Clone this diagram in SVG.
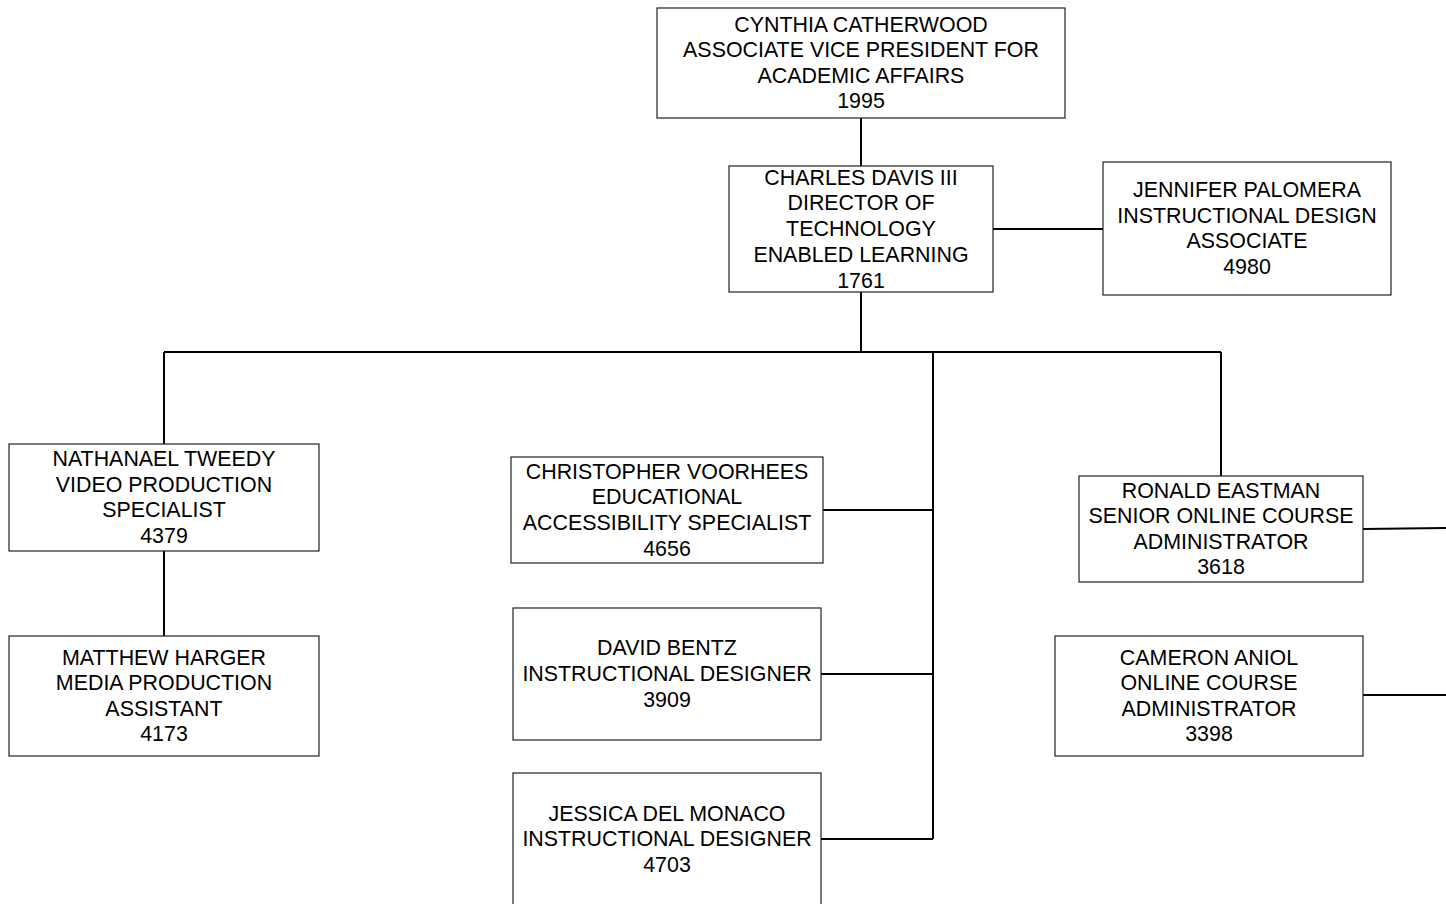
<svg xmlns="http://www.w3.org/2000/svg" width="1446" height="904" viewBox="0 0 1446 904">
<style>
.box{fill:#fff;stroke:#222;stroke-width:1.2}
.t{font-family:"Liberation Sans",Arial,sans-serif;font-size:21.4px;fill:#000;text-anchor:middle}
.c{stroke:#000;stroke-width:2;fill:none}
</style>
<rect width="1446" height="904" fill="#fff"/>
<g id="connectors">
<path class="c" d="M861 118V166"/>
<path class="c" d="M861 292V352"/>
<path class="c" d="M164 352H1221"/>
<path class="c" d="M164 352V444"/>
<path class="c" d="M164 551V636"/>
<path class="c" d="M933 352V839"/>
<path class="c" d="M823 510H933"/>
<path class="c" d="M821 674H933"/>
<path class="c" d="M821 839H933"/>
<path class="c" d="M1221 352V476"/>
<path class="c" d="M1363 529L1446 528"/>
<path class="c" d="M1363 695H1446"/>
<path class="c" d="M993 229H1103"/>
</g>
<g id="cynthia">
<rect class="box" x="657" y="8" width="408" height="110"/>
<text class="t" x="861" y="31.5">CYNTHIA CATHERWOOD</text>
<text class="t" x="861" y="56.5">ASSOCIATE VICE PRESIDENT FOR</text>
<text class="t" x="861" y="82.5">ACADEMIC AFFAIRS</text>
<text class="t" x="861" y="107.5">1995</text>
</g>
<g id="charles">
<rect class="box" x="729" y="166" width="264" height="126"/>
<text class="t" x="861" y="184.5">CHARLES DAVIS III</text>
<text class="t" x="861" y="209.5">DIRECTOR OF</text>
<text class="t" x="861" y="235.5">TECHNOLOGY</text>
<text class="t" x="861" y="261.5">ENABLED LEARNING</text>
<text class="t" x="861" y="287.5">1761</text>
</g>
<g id="jennifer">
<rect class="box" x="1103" y="162" width="288" height="133"/>
<text class="t" x="1247" y="196.5">JENNIFER PALOMERA</text>
<text class="t" x="1247" y="222.5">INSTRUCTIONAL DESIGN</text>
<text class="t" x="1247" y="247.5">ASSOCIATE</text>
<text class="t" x="1247" y="273.5">4980</text>
</g>
<g id="nathanael">
<rect class="box" x="9" y="444" width="310" height="107"/>
<text class="t" x="164" y="465.5">NATHANAEL TWEEDY</text>
<text class="t" x="164" y="491.5">VIDEO PRODUCTION</text>
<text class="t" x="164" y="516.5">SPECIALIST</text>
<text class="t" x="164" y="542.5">4379</text>
</g>
<g id="matthew">
<rect class="box" x="9" y="636" width="310" height="120"/>
<text class="t" x="164" y="664.5">MATTHEW HARGER</text>
<text class="t" x="164" y="689.5">MEDIA PRODUCTION</text>
<text class="t" x="164" y="715.5">ASSISTANT</text>
<text class="t" x="164" y="740.5">4173</text>
</g>
<g id="christopher">
<rect class="box" x="511" y="457" width="312" height="106"/>
<text class="t" x="667" y="478.5">CHRISTOPHER VOORHEES</text>
<text class="t" x="667" y="503.5">EDUCATIONAL</text>
<text class="t" x="667" y="529.5">ACCESSIBILITY SPECIALIST</text>
<text class="t" x="667" y="555.5">4656</text>
</g>
<g id="david">
<rect class="box" x="513" y="608" width="308" height="132"/>
<text class="t" x="667" y="654.5">DAVID BENTZ</text>
<text class="t" x="667" y="680.5">INSTRUCTIONAL DESIGNER</text>
<text class="t" x="667" y="706.5">3909</text>
</g>
<g id="jessica">
<rect class="box" x="513" y="773" width="308" height="140"/>
<text class="t" x="667" y="820.5">JESSICA DEL MONACO</text>
<text class="t" x="667" y="845.5">INSTRUCTIONAL DESIGNER</text>
<text class="t" x="667" y="871.5">4703</text>
</g>
<g id="ronald">
<rect class="box" x="1079" y="476" width="284" height="106"/>
<text class="t" x="1221" y="497.5">RONALD EASTMAN</text>
<text class="t" x="1221" y="522.5">SENIOR ONLINE COURSE</text>
<text class="t" x="1221" y="548.5">ADMINISTRATOR</text>
<text class="t" x="1221" y="573.5">3618</text>
</g>
<g id="cameron">
<rect class="box" x="1055" y="636" width="308" height="120"/>
<text class="t" x="1209" y="664.5">CAMERON ANIOL</text>
<text class="t" x="1209" y="689.5">ONLINE COURSE</text>
<text class="t" x="1209" y="715.5">ADMINISTRATOR</text>
<text class="t" x="1209" y="740.5">3398</text>
</g>
</svg>
